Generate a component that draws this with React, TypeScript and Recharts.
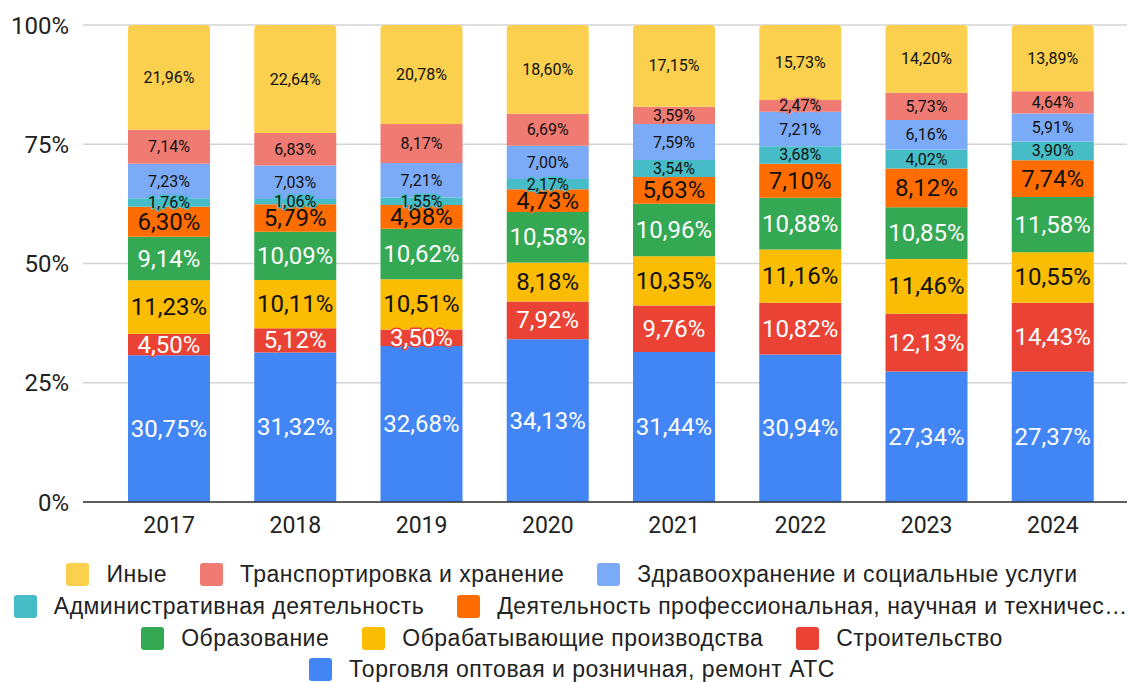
import { Bar, BarChart, CartesianGrid, LabelList, Legend, XAxis, YAxis } from 'recharts'

const years = ['2017', '2018', '2019', '2020', '2021', '2022', '2023', '2024']

const trade = [30.75, 31.32, 32.68, 34.13, 31.44, 30.94, 27.34, 27.37]
const construction = [4.5, 5.12, 3.5, 7.92, 9.76, 10.82, 12.13, 14.43]
const manufacturing = [11.23, 10.11, 10.51, 8.18, 10.35, 11.16, 11.46, 10.55]
const education = [9.14, 10.09, 10.62, 10.58, 10.96, 10.88, 10.85, 11.58]
const professional = [6.3, 5.79, 4.98, 4.73, 5.63, 7.1, 8.12, 7.74]
const admin = [1.76, 1.06, 1.55, 2.17, 3.54, 3.68, 4.02, 3.9]
const health = [7.23, 7.03, 7.21, 7.0, 7.59, 7.21, 6.16, 5.91]
const transport = [7.14, 6.83, 8.17, 6.69, 3.59, 2.47, 5.73, 4.64]
const other = [21.96, 22.64, 20.78, 18.6, 17.15, 15.73, 14.2, 13.89]

const yTicks = [0, 0.25, 0.5, 0.75, 1]

// bottom of the stack first
const SERIES = [
  { key: 'trade', values: trade, name: 'Торговля оптовая и розничная, ремонт АТС', color: '#4285F4', text: '#fff', size: 24 },
  { key: 'construction', values: construction, name: 'Строительство', color: '#EA4335', text: '#fff', size: 24 },
  { key: 'manufacturing', values: manufacturing, name: 'Обрабатывающие производства', color: '#FBBC04', text: '#111', size: 24 },
  { key: 'education', values: education, name: 'Образование', color: '#34A853', text: '#fff', size: 24 },
  { key: 'professional', values: professional, name: 'Деятельность профессиональная, научная и техническая', color: '#FF6D01', text: '#111', size: 24 },
  { key: 'admin', values: admin, name: 'Административная деятельность', color: '#46BDC6', text: '#111', size: 16 },
  { key: 'health', values: health, name: 'Здравоохранение и социальные услуги', color: '#7BAAF7', text: '#111', size: 16 },
  { key: 'transport', values: transport, name: 'Транспортировка и хранение', color: '#F07B72', text: '#111', size: 16 },
  { key: 'other', values: other, name: 'Иные', color: '#FCD04F', text: '#111', size: 16 },
]

const legendRows = [
  [8, 7, 6],
  [5, 4],
  [3, 2, 1],
  [0],
]

const data = years.map((year, i) => {
  const row: Record<string, string | number> = { year }
  SERIES.forEach((s) => {
    row[s.key] = s.values[i]
  })
  return row
})

const fmt = (v: number) => v.toFixed(2).replace('.', ',') + '%'

function makeLabel(color: string, text: string, size: number) {
  return (props: any) => {
    const { x, y, width, height, value } = props
    if (value == null) return null
    return (
      <text
        x={Number(x) + Number(width) / 2}
        y={Number(y) + Number(height) / 2}
        textAnchor="middle"
        dominantBaseline="central"
        fontSize={size}
        fontFamily="Roboto, sans-serif"
        fill={text}
        stroke={color}
        strokeWidth={3}
        strokeLinejoin="round"
        paintOrder="stroke"
      >
        {fmt(Number(value))}
      </text>
    )
  }
}

function LegendBox() {
  return (
    <div style={{ fontFamily: '"Liberation Sans", Arial, sans-serif', fontSize: 23, letterSpacing: 0.5, color: '#222' }}>
      {legendRows.map((row, r) => (
        <div key={r} style={{ display: 'flex', justifyContent: 'center', alignItems: 'center', height: 31.7, whiteSpace: 'nowrap' }}>
          {row.map((idx, j) => {
            const s = SERIES[idx]
            return (
              <div key={s.key} style={{ display: 'flex', alignItems: 'center', marginLeft: j === 0 ? 0 : 33, minWidth: 0 }}>
                <span style={{ width: 23, height: 23, borderRadius: 3, background: s.color, flex: 'none', marginRight: 17 }} />
                <span style={{ maxWidth: 633, overflow: 'hidden', textOverflow: 'ellipsis' }}>{s.name}</span>
              </div>
            )
          })}
        </div>
      ))}
    </div>
  )
}

export default function App() {
  return (
    <div style={{ position: 'absolute', left: 0, top: 0, background: '#fff' }}>
      <BarChart
        width={1128}
        height={682}
        data={data}
        stackOffset="expand"
        margin={{ top: 25, right: 1, bottom: 17, left: 0 }}
      >
        <CartesianGrid vertical={false} stroke="#d3d3d3" strokeWidth={1.5} />
        <XAxis
          dataKey="year"
          tickLine={false}
          axisLine={{ stroke: '#333', strokeWidth: 1.5 }}
          height={40}
          tickMargin={9}
          padding={{ left: 23, right: 11 }}
          tick={{ fontSize: 23, fill: '#222', fontFamily: 'Roboto, sans-serif' }}
        />
        <YAxis
          width={83}
          domain={[0, 1]}
          ticks={yTicks}
          tickFormatter={(v: number) => `${Math.round(v * 100)}%`}
          tickLine={false}
          axisLine={false}
          tickMargin={8}
          tick={{ fontSize: 24, fill: '#222', fontFamily: 'Roboto, sans-serif' }}
        />
        <Legend
          verticalAlign="bottom"
          content={() => <LegendBox />}
          wrapperStyle={{ left: 8, top: 559, width: 1128, height: 123 }}
        />
        {SERIES.map((s, i) => (
          <Bar
            key={s.key}
            dataKey={s.key}
            name={s.name}
            stackId="a"
            fill={s.color}
            barSize={82}
            radius={i === SERIES.length - 1 ? [4, 4, 0, 0] : 0}
            isAnimationActive={false}
          >
            <LabelList dataKey={s.key} content={makeLabel(s.color, s.text, s.size)} />
          </Bar>
        ))}
      </BarChart>
    </div>
  )
}
